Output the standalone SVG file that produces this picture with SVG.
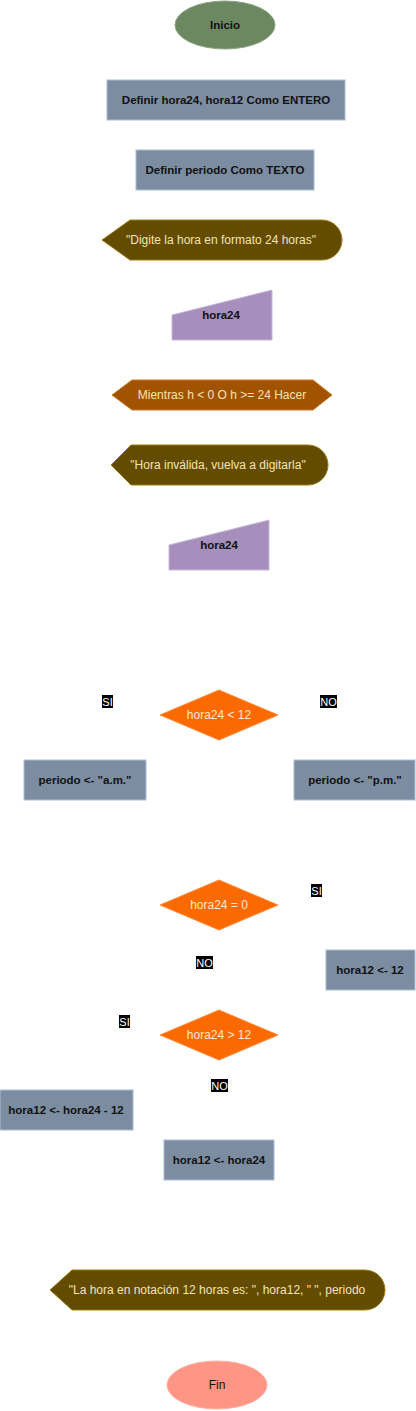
<svg xmlns="http://www.w3.org/2000/svg" width="416" height="1411" viewBox="0 0 416 1411">
<style>
text{font-family:"Liberation Sans",Arial,sans-serif;font-size:12px;text-anchor:middle;dominant-baseline:central}
.proc{fill:#7d8da1;stroke:#a9bdd3;stroke-width:1}
.pt{font-weight:bold;fill:#111;font-size:11.5px}
.out{fill:#634b00;stroke:#9c7f0a;stroke-width:1}
.ot{fill:#f4e4b4}
.inp{fill:#a68fbc;stroke:#c9b6db;stroke-width:1}
.dec{fill:#fa6a00;stroke:#ff8a3a;stroke-width:1}
.dt{fill:#fde8d8}
.lblbg{fill:#000}
.lbl{fill:#fff;font-size:11px}
</style>
<rect width="416" height="1411" fill="#fff"/>
<g id="connectors"></g>
<g id="inicio"><ellipse cx="225" cy="25" rx="50" ry="24" fill="#6c8862" stroke="#8aa57f"/><text x="225" y="25" class="pt">Inicio</text></g>
<g id="def1"><rect class="proc" x="107" y="80" width="238" height="40"/><text x="226" y="100" class="pt">Definir hora24, hora12 Como ENTERO</text></g>
<g id="def2"><rect class="proc" x="136" y="150" width="178" height="40"/><text x="225" y="170" class="pt">Definir periodo Como TEXTO</text></g>
<g id="out1"><path class="out" d="M102,240 L130,220 L322,220 A20,20 0 0 1 322,260 L130,260 Z"/><text x="221" y="240" class="ot">"Digite la hora en formato 24 horas"</text></g>
<g id="in1"><path class="inp" d="M172,315 L272,290 L272,340 L172,340 Z"/><text x="221" y="315" class="pt">hora24</text></g>
<g id="mientras"><path d="M112,395 L132,380 L313,380 L332,395 L313,410 L132,410 Z" fill="#a25300" stroke="#c87a1e"/><text x="222" y="395" class="ot">Mientras h &lt; 0 O h &gt;= 24 Hacer</text></g>
<g id="out2"><path class="out" d="M111,465 L131,445 L308,445 A20,20 0 0 1 308,485 L131,485 Z"/><text x="218" y="465" class="ot">"Hora inválida, vuelva a digitarla"</text></g>
<g id="in2"><path class="inp" d="M169,545 L269,520 L269,570 L169,570 Z"/><text x="219" y="545" class="pt">hora24</text></g>
<g id="dec1"><path class="dec" d="M160,715 L219,690 L278,715 L219,740 Z"/><text x="219" y="715" class="dt">hora24 &lt; 12</text></g>
<g id="lbl-si1"><rect class="lblbg" x="102" y="695" width="11" height="13"/><text x="107.5" y="701.5" class="lbl">SI</text></g>
<g id="lbl-no1"><rect class="lblbg" x="320" y="695" width="17" height="13"/><text x="328.5" y="701.5" class="lbl">NO</text></g>
<g id="am"><rect class="proc" x="24" y="760" width="122" height="40"/><text x="85" y="780" class="pt">periodo &lt;- "a.m."</text></g>
<g id="pm"><rect class="proc" x="294" y="760" width="121" height="40"/><text x="355" y="780" class="pt">periodo &lt;- "p.m."</text></g>
<g id="dec2"><path class="dec" d="M160,905 L219,880 L278,905 L219,930 Z"/><text x="219" y="905" class="dt">hora24 = 0</text></g>
<g id="lbl-si2"><rect class="lblbg" x="311" y="884" width="11" height="13"/><text x="316.5" y="890.5" class="lbl">SI</text></g>
<g id="lbl-no2"><rect class="lblbg" x="196" y="956" width="17" height="13"/><text x="204.5" y="962.5" class="lbl">NO</text></g>
<g id="h12"><rect class="proc" x="326" y="950" width="89" height="40"/><text x="370" y="970" class="pt">hora12 &lt;- 12</text></g>
<g id="dec3"><path class="dec" d="M160,1035 L219,1010 L278,1035 L219,1060 Z"/><text x="219" y="1035" class="dt">hora24 &gt; 12</text></g>
<g id="lbl-si3"><rect class="lblbg" x="119" y="1015" width="11" height="13"/><text x="124.5" y="1021.5" class="lbl">SI</text></g>
<g id="lbl-no3"><rect class="lblbg" x="211" y="1079" width="17" height="13"/><text x="219.5" y="1085.5" class="lbl">NO</text></g>
<g id="hminus"><rect class="proc" x="0" y="1090" width="133" height="40"/><text x="66" y="1110" class="pt">hora12 &lt;- hora24 - 12</text></g>
<g id="heq"><rect class="proc" x="164" y="1140" width="110" height="40"/><text x="219" y="1160" class="pt">hora12 &lt;- hora24</text></g>
<g id="out3"><path class="out" d="M50,1290 L72,1270 L365,1270 A20,20 0 0 1 365,1310 L72,1310 Z"/><text x="217" y="1290" class="ot">"La hora en notación 12 horas es: ", hora12, " ", periodo</text></g>
<g id="fin"><ellipse cx="217" cy="1385" rx="50" ry="24" fill="#ff9585" stroke="#ffb0a4"/><text x="217" y="1385" fill="#111">Fin</text></g>
</svg>
